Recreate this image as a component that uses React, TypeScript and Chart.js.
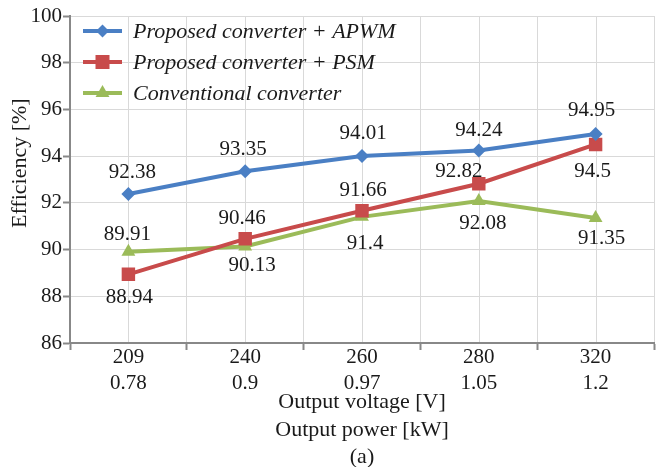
import { useEffect, useRef } from "react";
import { Chart, registerables } from "chart.js";

Chart.register(...registerables);

const voltages = ["209", "240", "260", "280", "320"];
const powers = ["0.78", "0.9", "0.97", "1.05", "1.2"];

const seriesNames = [
  "Proposed converter + APWM",
  "Proposed converter + PSM",
  "Conventional converter",
];
const apwm = [92.38, 93.35, 94.01, 94.24, 94.95];
const psm = [88.94, 90.46, 91.66, 92.82, 94.5];
const conventional = [89.91, 90.13, 91.4, 92.08, 91.35];

const yMin = 86;
const yMax = 100;
const yStep = 2;

const yTitle = "Efficiency [%]";
const xTitle = ["Output voltage [V]", "Output power [kW]", "(a)"];

// label offsets (dx, dy) from each point, styling only
const labelOffsets = [
  [[4, -21], [-2, -22], [1, -22], [0, -20], [-4, -23]],
  [[1, 23], [-3, -20], [1, -20], [-20, -12], [-3, 27]],
  [[-1, -17], [7, 19], [3, 27], [4, 22], [6, 20]],
];

const colors = ["#4A7FC4", "#C84B4B", "#9BBB59"];
const TEXT = "#1a1a1a";
const SERIF = '"Liberation Serif", "Times New Roman", serif';

function drawMarker(ctx: CanvasRenderingContext2D, kind: number, x: number, y: number, color: string) {
  ctx.save();
  ctx.fillStyle = color;
  ctx.beginPath();
  if (kind === 0) {
    const r = 6.5;
    ctx.moveTo(x, y - r);
    ctx.lineTo(x + r, y);
    ctx.lineTo(x, y + r);
    ctx.lineTo(x - r, y);
  } else if (kind === 1) {
    const s = 7;
    ctx.rect(x - s, y - s, 2 * s, 2 * s);
  } else {
    const r = 8;
    ctx.moveTo(x, y - r);
    ctx.lineTo(x + r * 0.866, y + r * 0.5);
    ctx.lineTo(x - r * 0.866, y + r * 0.5);
  }
  ctx.closePath();
  ctx.fill();
  ctx.restore();
}

const extrasPlugin = {
  id: "extras",
  beforeDatasetsDraw(chart: any) {
    const { ctx, chartArea } = chart;
    const xs = chart.scales.x;
    ctx.save();
    ctx.strokeStyle = "#d9d9d9";
    ctx.lineWidth = 1;
    for (let i = 0; i < voltages.length; i++) {
      const x = Math.round(xs.getPixelForValue(i)) + 0.5;
      ctx.beginPath();
      ctx.moveTo(x, chartArea.top);
      ctx.lineTo(x, chartArea.bottom - 1);
      ctx.stroke();
    }
    ctx.restore();
  },
  afterDatasetsDraw(chart: any) {
    const { ctx, chartArea } = chart;
    ctx.save();
    // data labels
    ctx.font = `21px ${SERIF}`;
    ctx.fillStyle = TEXT;
    ctx.textAlign = "center";
    ctx.textBaseline = "middle";
    chart.data.datasets.forEach((ds: any, di: number) => {
      const meta = chart.getDatasetMeta(di);
      meta.data.forEach((pt: any, i: number) => {
        const [dx, dy] = labelOffsets[di][i];
        ctx.fillText(String(ds.data[i]), pt.x + dx, pt.y + dy);
      });
    });
    // legend
    ctx.font = `italic 22px ${SERIF}`;
    ctx.textAlign = "left";
    chart.data.datasets.forEach((ds: any, di: number) => {
      const y = chartArea.top + 15 + di * 31;
      const x0 = chartArea.left + 13;
      const x1 = chartArea.left + 52;
      ctx.strokeStyle = colors[di];
      ctx.lineWidth = 4;
      ctx.beginPath();
      ctx.moveTo(x0, y);
      ctx.lineTo(x1, y);
      ctx.stroke();
      drawMarker(ctx, di, (x0 + x1) / 2, y, colors[di]);
      ctx.fillStyle = TEXT;
      ctx.fillText(ds.label, chartArea.left + 63, y + 1);
    });
    ctx.restore();
  },
  afterDraw(chart: any) {
    const { ctx, chartArea } = chart;
    ctx.save();
    ctx.translate(20, chartArea.top + (chartArea.bottom - chartArea.top) * 0.45);
    ctx.rotate(-Math.PI / 2);
    ctx.font = `22px ${SERIF}`;
    ctx.fillStyle = TEXT;
    ctx.textAlign = "center";
    ctx.textBaseline = "middle";
    ctx.fillText(yTitle, 0, 0);
    ctx.restore();
  },
};

export default function App() {
  const ref = useRef<HTMLCanvasElement | null>(null);
  useEffect(() => {
    if (!ref.current) return;
    const labels = voltages.map((v, i) => [v, powers[i]]);
    const data = [apwm, psm, conventional];
    const styles = ["rectRot", "rect", "triangle"];
    const radii = [7, 9.5, 8];
    const chart = new Chart(ref.current, {
      type: "line",
      data: {
        labels,
        datasets: data.map((d, i) => ({
          label: seriesNames[i],
          data: d,
          borderColor: colors[i],
          backgroundColor: colors[i],
          borderWidth: 4,
          pointStyle: styles[i] as any,
          pointRadius: radii[i],
          pointBorderWidth: 0,
          pointBackgroundColor: colors[i],
          tension: 0,
          fill: false,
        })),
      },
      options: {
        animation: false,
        responsive: false,
        devicePixelRatio: 1,
        layout: { padding: { top: 16, right: 10, left: 0, bottom: 0 } },
        plugins: {
          legend: { display: false },
          tooltip: { enabled: false },
        },
        scales: {
          x: {
            type: "category",
            offset: true,
            grid: {
              offset: true,
              color: "#d9d9d9",
              lineWidth: 1,
              drawTicks: true,
              tickLength: 7,
              tickColor: "#888888",
              tickWidth: 2,
            },
            border: { color: "#888888", width: 2 },
            ticks: {
              color: TEXT,
              font: { family: SERIF, size: 21, lineHeight: 1.24 },
              padding: -6,
              maxRotation: 0,
              autoSkip: false,
            },
            title: {
              display: true,
              text: xTitle,
              color: TEXT,
              font: { family: SERIF, size: 22, lineHeight: 1.25 },
              padding: { top: 0, bottom: -4 },
            },
            afterFit: (s: any) => {
              s.height = 124;
            },
          },
          y: {
            min: yMin,
            max: yMax,
            ticks: {
              stepSize: yStep,
              color: TEXT,
              font: { family: SERIF, size: 21 },
              padding: 1,
            },
            grid: {
              color: "#d9d9d9",
              lineWidth: 1,
              tickLength: 7,
              tickColor: "#888888",
              tickWidth: 2,
            },
            border: { color: "#888888", width: 2 },
            afterFit: (s: any) => {
              s.width = 70;
            },
          },
        },
      },
      plugins: [extrasPlugin],
    });
    return () => chart.destroy();
  }, []);
  return (
    <div style={{ position: "fixed", left: 0, top: 0, width: 664, height: 467, background: "#fff" }}>
      <canvas ref={ref} width={664} height={467} style={{ display: "block" }} />
    </div>
  );
}
